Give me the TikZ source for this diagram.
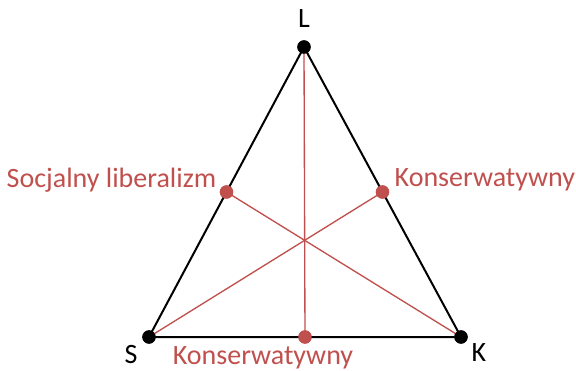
\documentclass[tikz,border=0pt]{standalone}
\usepackage{fontspec}
\setmainfont{Carlito}
\usetikzlibrary{calc}
\definecolor{axisred}{HTML}{C0504D}
\begin{document}
\begin{tikzpicture}[x=0.75pt,y=-0.75pt,
    side/.style={line width=1.5pt},
    axis/.style={axisred,line width=1pt},
    vdot/.style={circle,fill=black,inner sep=0pt,minimum size=10pt},
    mdot/.style={circle,fill=axisred,inner sep=0pt,minimum size=10pt},
    lab/.style={font=\fontsize{21}{25}\selectfont},
    rlab/.style={lab,text=axisred}]
    \useasboundingbox (0,0) rectangle (576,371);
    \node[vdot] (L) at (304,47) {};
    \node[vdot] (S) at (149,337) {};
    \node[vdot] (K) at (461,337) {};
    \node[mdot] (mSL) at ($(S)!0.5!(L)$) {};
    \node[mdot] (mLK) at ($(L)!0.5!(K)$) {};
    \node[mdot] (mSK) at ($(S)!0.5!(K)$) {};
    \draw[side] (L.center) -- (S.center) -- (K.center) -- cycle;
    \draw[axis] (L.center) -- (mSK.center);
    \draw[axis] (S.center) -- (mLK.center);
    \draw[axis] (K.center) -- (mSL.center);
    \node[vdot] at (L) {};
    \node[vdot] at (S) {};
    \node[vdot] at (K) {};
    \node[mdot] at (mSL) {};
    \node[mdot] at (mLK) {};
    \node[mdot] at (mSK) {};
    \node[lab] (tL) at (304,19) {L};
    \node[lab] (tS) at (131,355) {S};
    \node[lab] (tK) at (479,353) {K};
    \node[rlab,anchor=east] (tSL) at (221,180) {Socjalny liberalizm};
    \node[rlab,anchor=west] (tLK) at (390,180) {Konserwatywny};
    \node[rlab] (tSK) at (263,358) {Konserwatywny};
\end{tikzpicture}
\end{document}
